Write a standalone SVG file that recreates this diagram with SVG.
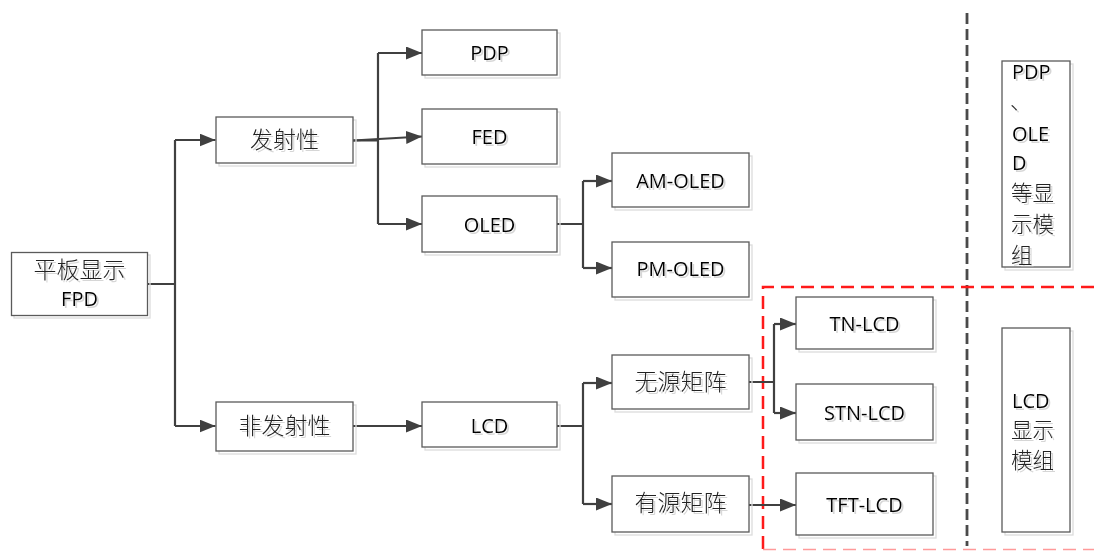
<svg xmlns="http://www.w3.org/2000/svg" width="1094" height="551" viewBox="0 0 1094 551">
<style>
.box{fill:#fff;stroke:#5a5a5a;stroke-width:1.3}
.sh{fill:none;stroke:#dcdcdc;stroke-width:1.3}
.zh{font-family:"Noto Sans CJK SC","Noto Sans",sans-serif;font-size:23px;fill:#222;font-weight:300}
.zs{font-size:21.5px}
.en{font-family:"Open Sans","Noto Sans","Liberation Sans",sans-serif;font-size:20px;fill:#000}
.t{filter:url(#ts)}
.c{fill:none;stroke:#404040;stroke-width:2.2}
.ca{fill:none;stroke:#404040;stroke-width:2.2;marker-end:url(#ah)}
</style>
<defs>
<marker id="ah" viewBox="0 0 16 13" refX="16" refY="6.5" markerWidth="16" markerHeight="13" markerUnits="userSpaceOnUse" orient="auto">
<path d="M0,0 L16,6.5 L0,13 Z" fill="#404040"/>
</marker>
<filter id="ts" x="-10%" y="-10%" width="130%" height="140%">
<feDropShadow dx="2" dy="2" stdDeviation="0.6" flood-color="#bbb" flood-opacity="0.6"/>
</filter>
</defs>
<rect width="1094" height="551" fill="#fff"/>

<!-- separators -->
<line x1="967" y1="13" x2="967" y2="546" stroke="#4a4a4a" stroke-width="2.8" stroke-dasharray="11,5"/>
<path d="M763,549 L763,287 L1094,287" fill="none" stroke="#ff1a1a" stroke-width="2.5" stroke-dasharray="13,7"/>
<line x1="763" y1="549.5" x2="1094" y2="549.5" stroke="#ff9a9a" stroke-width="1.5" stroke-dasharray="13,7"/>

<g id="connectors">
<path class="c" d="M147,284 H175 M175,140 V426"/>
<path class="ca" d="M175,140 H215.5"/>
<path class="ca" d="M175,426 H215.5"/>
<path class="c" d="M353,140.5 H378 M378,53 V224"/>
<path class="ca" d="M378,53 H422"/>
<path class="ca" d="M353,140.5 L422,136.5"/>
<path class="ca" d="M378,224 H422"/>
<path class="c" d="M557,224 H583 M583,181 V268"/>
<path class="ca" d="M583,181 H612"/>
<path class="ca" d="M583,268 H612"/>
<path class="ca" d="M353,426 H422"/>
<path class="c" d="M557,426 H583 M583,383 V504"/>
<path class="ca" d="M583,383 H612"/>
<path class="ca" d="M583,504 H612"/>
<path class="c" d="M749,382 H774 M774,324 V413"/>
<path class="ca" d="M774,324 H796"/>
<path class="ca" d="M774,413 H796"/>
<path class="ca" d="M749,505 H796"/>
</g>

<g id="fpd"><rect class="sh" x="14" y="255" width="136" height="63"/><rect class="box" x="11.5" y="252.5" width="136" height="63"/>
<text class="zh t" x="79.5" y="278" text-anchor="middle">平板显示</text><text class="en t" x="79.5" y="306" text-anchor="middle">FPD</text></g>

<g id="emissive"><rect class="sh" x="219" y="120" width="137" height="46"/><rect class="box" x="216" y="117" width="137" height="46"/>
<text class="zh t" x="284.5" y="148" text-anchor="middle">发射性</text></g>

<g id="pdp"><rect class="sh" x="425" y="33" width="135" height="45"/><rect class="box" x="422" y="30" width="135" height="45"/>
<text class="en t" x="489.5" y="59.5" text-anchor="middle">PDP</text></g>

<g id="fed"><rect class="sh" x="425" y="112" width="135" height="55"/><rect class="box" x="422" y="109" width="135" height="55"/>
<text class="en t" x="489.5" y="143.5" text-anchor="middle">FED</text></g>

<g id="oled"><rect class="sh" x="425" y="199" width="135" height="56"/><rect class="box" x="422" y="196" width="135" height="56"/>
<text class="en t" x="489.5" y="231.5" text-anchor="middle">OLED</text></g>

<g id="amoled"><rect class="sh" x="615" y="156" width="137" height="54"/><rect class="box" x="612" y="153" width="137" height="54"/>
<text class="en t" x="680.5" y="187.5" text-anchor="middle">AM-OLED</text></g>

<g id="pmoled"><rect class="sh" x="615" y="245" width="137" height="55"/><rect class="box" x="612" y="242" width="137" height="55"/>
<text class="en t" x="680.5" y="275.5" text-anchor="middle">PM-OLED</text></g>

<g id="nonemissive"><rect class="sh" x="219" y="405" width="137" height="49"/><rect class="box" x="216" y="402" width="137" height="49"/>
<text class="zh t" x="284.5" y="434" text-anchor="middle">非发射性</text></g>

<g id="lcd"><rect class="sh" x="425" y="405" width="135" height="45"/><rect class="box" x="422" y="402" width="135" height="45"/>
<text class="en t" x="489.5" y="432.5" text-anchor="middle">LCD</text></g>

<g id="passive"><rect class="sh" x="615" y="358" width="137" height="54"/><rect class="box" x="612" y="355" width="137" height="54"/>
<text class="zh t" x="680.5" y="390" text-anchor="middle">无源矩阵</text></g>

<g id="active"><rect class="sh" x="615" y="479" width="137" height="56"/><rect class="box" x="612" y="476" width="137" height="56"/>
<text class="zh t" x="680.5" y="511" text-anchor="middle">有源矩阵</text></g>

<g id="tnlcd"><rect class="sh" x="799" y="300" width="137" height="52"/><rect class="box" x="796" y="297" width="137" height="52"/>
<text class="en t" x="864.5" y="330.5" text-anchor="middle">TN-LCD</text></g>

<g id="stnlcd"><rect class="sh" x="799" y="387" width="137" height="56"/><rect class="box" x="796" y="384" width="137" height="56"/>
<text class="en t" x="864.5" y="419.5" text-anchor="middle">STN-LCD</text></g>

<g id="tftlcd"><rect class="sh" x="799" y="476" width="137" height="62"/><rect class="box" x="796" y="473" width="137" height="62"/>
<text class="en t" x="864.5" y="511.5" text-anchor="middle">TFT-LCD</text></g>

<g id="module-oled"><rect class="sh" x="1005" y="64" width="68" height="206"/><rect class="box" x="1002" y="61" width="68" height="206"/>
<text class="en t" x="1012" y="78.5">PDP</text>
<text class="zh zs t" x="1010" y="108.5">、</text>
<text class="en t" x="1012" y="140.5">OLE</text>
<text class="en t" x="1012" y="169.5">D</text>
<text class="zh zs t" x="1011" y="200.5">等显</text>
<text class="zh zs t" x="1011" y="231.5">示模</text>
<text class="zh zs t" x="1011" y="262.5">组</text></g>

<g id="module-lcd"><rect class="sh" x="1005" y="331" width="68" height="204"/><rect class="box" x="1002" y="328" width="68" height="204"/>
<text class="en t" x="1012" y="407.5">LCD</text>
<text class="zh zs t" x="1011" y="437.5">显示</text>
<text class="zh zs t" x="1011" y="467.5">模组</text></g>
</svg>
